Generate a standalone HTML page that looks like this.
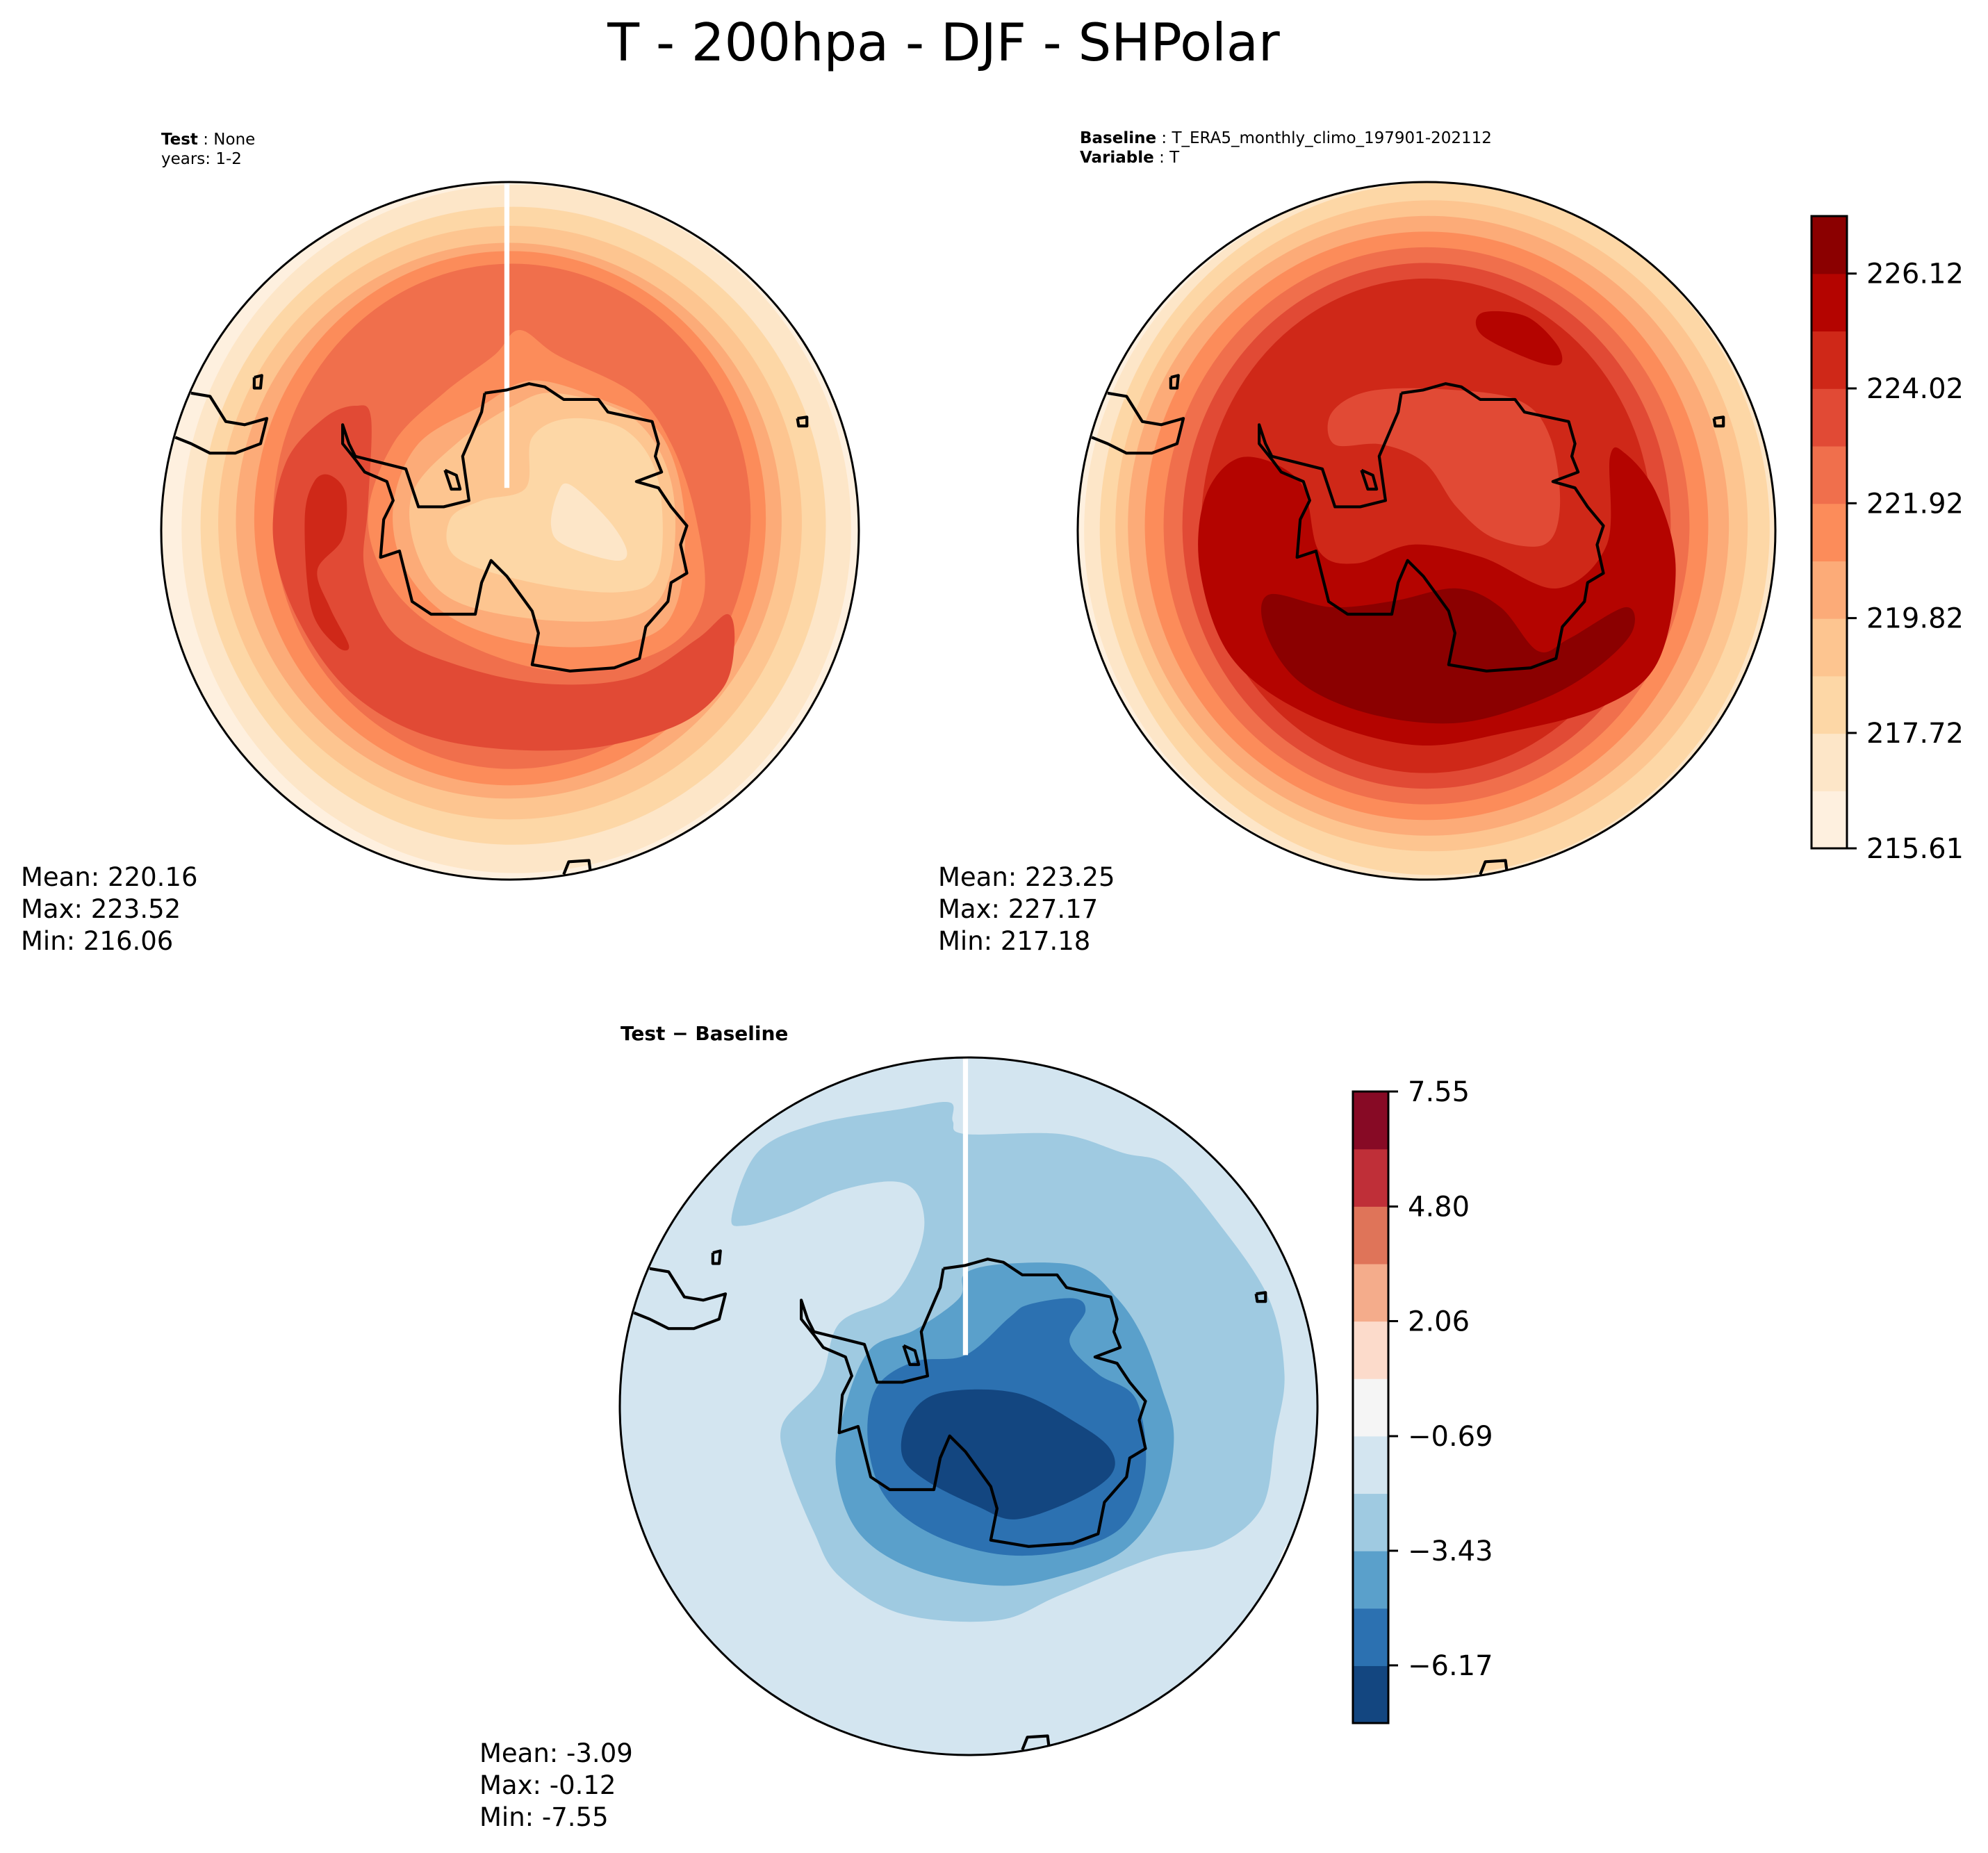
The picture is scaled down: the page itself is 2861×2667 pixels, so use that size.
<!DOCTYPE html>
<html><head><meta charset="utf-8"><style>
html,body{margin:0;padding:0;background:#fff;}
svg{display:block;}
text{font-family:"DejaVu Sans","Liberation Sans",sans-serif;fill:#000;}
</style></head><body>
<svg id="fig" xmlns="http://www.w3.org/2000/svg" width="2861" height="2667" viewBox="0 0 2861 2667">
<rect x="0" y="0" width="2861" height="2667" fill="#fff"/>
<text x="1358" y="87" font-size="75" text-anchor="middle">T - 200hpa - DJF - SHPolar</text>

<text x="232" y="208" font-size="23"><tspan font-weight="bold">Test</tspan> : None</text>
<text x="232" y="236" font-size="23">years: 1-2</text>
<text x="1554" y="206" font-size="23"><tspan font-weight="bold">Baseline</tspan> : T_ERA5_monthly_climo_197901-202112</text>
<text x="1554" y="234" font-size="23"><tspan font-weight="bold">Variable</tspan> : T</text>
<text x="893" y="1497" font-size="28" font-weight="bold">Test − Baseline</text>

<g font-size="37">
<text x="30" y="1275">Mean: 220.16</text><text x="30" y="1321">Max: 223.52</text><text x="30" y="1367">Min: 216.06</text></g>
<g font-size="37">
<text x="1350" y="1275">Mean: 223.25</text><text x="1350" y="1321">Max: 227.17</text><text x="1350" y="1367">Min: 217.18</text></g>
<g font-size="37">
<text x="690" y="2536">Mean: -3.09</text><text x="690" y="2582">Max: -0.12</text><text x="690" y="2628">Min: -7.55</text></g>

<g id="p1"></g>
<g id="p2"></g>
<g id="p3"></g>
<g id="cb1"></g>
<g id="cb2"></g>
</svg>
<script>
const NS="http://www.w3.org/2000/svg";
// colorbar data
const tempLevelStart=215.61;
const tempLevelStep=1.051;
const tempTicks=["215.61","217.72","219.82","221.92","224.02","226.12"];
const tempColors=['#fef0df','#fde6c8','#fdd7a6','#fdc590','#fcab78','#fc8c5a','#f06f4c','#e14a35','#cf2818','#b40400','#8b0000'];
const diffLevelStart=-7.55;
const diffLevelStep=1.3727;
const diffTicks=["-6.17","-3.43","-0.69","2.06","4.80","7.55"];
const diffColors=['#134680','#2c71b1','#5aa0cb','#9fcae1','#d3e5f0','#f5f5f5','#fcdbcb','#f4ac8b','#df7459','#bf2f38','#870a25'];

function mk(tag,attrs,parent){const e=document.createElementNS(NS,tag);for(const k in attrs)e.setAttribute(k,attrs[k]);if(parent)parent.appendChild(e);return e;}
function smooth(p){let d='M'+p[0][0]+','+p[0][1];const n=p.length;
 for(let i=0;i<n;i++){const p0=p[(i-1+n)%n],p1=p[i],p2=p[(i+1)%n],p3=p[(i+2)%n];
  const c1=[p1[0]+(p2[0]-p0[0])/6,p1[1]+(p2[1]-p0[1])/6],c2=[p2[0]-(p3[0]-p1[0])/6,p2[1]-(p3[1]-p1[1])/6];
  d+=' C'+c1[0].toFixed(1)+','+c1[1].toFixed(1)+' '+c2[0].toFixed(1)+','+c2[1].toFixed(1)+' '+p2[0]+','+p2[1];}
 return d+'Z';}

// contour shapes (frame coordinates)
const testField=[
 {l:1,e:[815,835,530,545]},{l:2,e:[810,830,495,505]},{l:3,e:[805,825,462,470]},{l:4,e:[803,822,432,440]},
 {l:5,e:[805,818,405,423]},{l:6,e:[808,815,378,400]},
 {l:7,p:[[560,640],[585,660],[580,800],[575,900],[620,1000],[720,1050],[860,1080],[1000,1070],[1100,1010],[1150,970],[1160,1020],[1140,1090],[1060,1150],[900,1185],[700,1170],[560,1100],[470,980],[430,850],[450,730],[510,660]]},
 {l:8,p:[[520,750],[545,780],[540,850],[500,900],[520,960],[550,1020],[530,1020],[490,960],[480,820],[495,760]]},
 {l:5,p:[[820,520],[880,560],[1000,620],[1060,700],[1100,820],[1110,950],[1040,1030],[880,1060],[720,1010],[620,930],[580,820],[620,700],[700,620],[780,560]]},
 {l:4,p:[[840,600],[950,630],[1040,680],[1080,800],[1070,950],[1010,1010],[860,1020],[720,980],[640,900],[620,800],[660,700],[760,640]]},
 {l:3,p:[[880,620],[1000,660],[1060,760],[1060,900],[1010,970],[870,980],[720,950],[660,880],[650,780],[720,700],[810,640]]},
 {l:2,p:[[900,660],[990,680],[1040,760],[1040,900],[980,935],[840,920],[720,880],[710,820],[760,790],[830,770],[840,690]]},
 {l:1,p:[[900,765],[960,820],[990,870],[970,885],[890,860],[870,830],[880,780]]}
];
const baseField=[
 {l:1,e:[680,838,555,560]},{l:2,e:[685,835,535,553]},{l:3,e:[680,830,505,520]},{l:4,e:[675,830,480,495]},
 {l:5,e:[672,830,450,470]},{l:6,e:[672,830,420,445]},{l:7,e:[672,830,390,420]},{l:8,e:[672,830,360,395]},
 {l:9,p:[[380,720],[470,760],[500,870],[560,890],[650,860],[760,880],[880,930],[960,860],[965,720],[990,715],[1040,780],[1070,900],[1040,1050],[950,1120],[800,1160],[650,1180],[480,1130],[360,1040],[310,900],[320,780]]},
 {l:9,p:[[760,490],[830,495],[880,540],[885,572],[840,565],[760,525]]},
 {l:10,p:[[420,940],[520,960],[620,950],[720,930],[790,960],[850,1030],[900,1010],[990,960],[1000,1000],[940,1060],[850,1110],[720,1145],[580,1130],[470,1080],[415,1000]]},
 {l:7,p:[[580,615],[700,612],[820,630],[870,690],[885,800],[860,860],[780,850],[720,800],[670,730],[600,700],[525,700],[520,650]]}
];
const diffField=[
 {l:5,p:[[1310,1070],[1250,1210],[1120,1320],[940,1390],[1080,1370],[1240,1270],[1340,1150]]},
 {l:3,p:[[430,550],[470,450],[560,405],[700,380],[775,370],[780,400],[800,420],[950,420],[1050,450],[1120,470],[1200,560],[1280,680],[1305,800],[1290,900],[1270,1010],[1200,1070],[1100,1090],[950,1150],[850,1190],[700,1180],[600,1120],[560,1050],[520,950],[510,880],[570,810],[600,720],[680,680],[720,620],[735,560],[720,510],[680,495],[600,510],[520,545],[450,565]]},
 {l:2,p:[[800,640],[870,625],[980,630],[1040,680],[1080,740],[1110,820],[1130,900],[1110,1000],[1050,1080],[950,1120],[850,1135],[720,1110],[630,1050],[595,950],[610,850],[650,760],[720,730],[790,680]]},
 {l:1,p:[[900,690],[970,680],[990,700],[965,750],[1010,800],[1070,840],[1085,950],[1050,1040],[960,1080],[850,1085],[740,1050],[670,990],[645,900],[660,820],[720,780],[800,770],[870,710]]},
 {l:0,p:[[760,830],[880,830],[980,880],[1030,920],[1030,960],[970,1000],[880,1030],[820,1010],[740,970],[700,930],[710,870]]}
];
const coastAnt=[[765,620],[800,615],[835,605],[860,610],[890,630],[945,630],[960,650],[1030,665],[1040,700],[1035,720],[1045,745],[1005,760],[1040,770],[1060,800],[1085,830],[1075,860],[1085,905],[1060,920],[1055,950],[1020,990],[1010,1040],[970,1055],[900,1060],[840,1050],[850,1000],[840,965],[800,910],[775,885],[760,920],[750,970],[715,970],[680,970],[650,950],[640,910],[630,870],[600,880],[605,820],[620,790],[610,760],[575,745],[560,725],[540,700],[540,670],[550,700],[560,720],[600,730],[640,740],[660,800],[700,800],[740,790],[730,720],[760,650],[765,620]];
const coastSA=[[300,620],[330,625],[355,665],[385,670],[420,660],[410,700],[370,715],[330,715],[300,700],[275,690]];
const coastIsl1=[[1260,660],[1275,658],[1275,672],[1262,672],[1260,660]];
const coastIsl2=[[890,1382],[898,1362],[930,1360],[932,1376]];
const coastIsl3=[[400,595],[412,592],[410,612],[400,612],[400,595]];
const coastIsl4=[[702,742],[720,750],[726,772],[712,772],[702,742]];

let clipN=0;
function panel(gid,cx,cy,s,ox,oy,r,field,colors,gap){
 const g=document.getElementById(gid);
 const id='clip'+(clipN++);
 const defs=mk('defs',{},g);const cp=mk('clipPath',{id:id},defs);
 mk('circle',{cx:ox,cy:oy,r:r},cp);
 const inner=mk('g',{transform:`translate(${cx},${cy}) scale(${s}) translate(${-ox},${-oy})`},g);
 const fg=mk('g',{'clip-path':`url(#${id})`},inner);
 const bg=mk('circle',{cx:ox,cy:oy,r:r,fill:colors[field.base]},fg);
 
 
 field.shapes.forEach(sh=>{
  let el;
  if(sh.e){el=mk('ellipse',{cx:sh.e[0],cy:sh.e[1],rx:sh.e[2],ry:sh.e[3],fill:colors[sh.l]},fg);}
  else{el=mk('path',{d:smooth(sh.p),fill:colors[sh.l]},fg);}
  
  
 });
 if(gap){const w=mk('rect',{x:gap[0]-4,y:oy-r-5,width:8,height:gap[1]-(oy-r-5),fill:'#fff'},fg);
  
  }
 const cg=mk('g',{transform:`translate(${cx},${cy}) scale(0.909) translate(-805,-838)`,fill:'none',stroke:'#000','stroke-width':4.6,'stroke-linejoin':'round'},g);
 
 
 const cc=mk('g',{'clip-path':`url(#c${id})`},cg);
 const d2=mk('defs',{},cg);const cp2=mk('clipPath',{id:'c'+id},d2);mk('circle',{cx:805,cy:838,r:552},cp2);
 [coastAnt,coastSA,coastIsl1,coastIsl2,coastIsl3,coastIsl4].forEach(c=>{
  mk('polyline',{points:c.map(p=>p.join(',')).join(' ')},cc);});
 const bd=mk('circle',{cx:cx,cy:cy,r:502,fill:'none',stroke:'#000','stroke-width':3},g);
 
 
}
panel('p1',734,764,0.909,805,838,552,{base:0,shapes:testField},tempColors,[800,770]);
panel('p2',2053,764,0.901,672,838,557,{base:0,shapes:baseField},tempColors,null);
panel('p3',1394,2024,0.909,805,851,552,{base:4,shapes:diffField},diffColors,[800,770]);

function colorbar(gid,x,y0,y1,colors,levStart,step,ticks){
 const g=document.getElementById(gid);
 const n=colors.length,w=51;
 const vmax=levStart+n*step;
 const yOf=v=>y1-(v-levStart)/(vmax-levStart)*(y1-y0);
 colors.forEach((c,i)=>{
  const r=mk('rect',{x:x,y:yOf(levStart+(i+1)*step),width:w,height:(y1-y0)/n+0.6,fill:c},g);
  
  
 });
 mk('rect',{x:x,y:y0,width:w,height:y1-y0,fill:'none',stroke:'#000','stroke-width':3},g);
 ticks.forEach(t=>{
  const yy=yOf(parseFloat(t));
  mk('line',{x1:x+w,x2:x+w+14,y1:yy,y2:yy,stroke:'#000','stroke-width':3},g);
  const tx=mk('text',{x:x+w+28,y:yy+14,'font-size':40},g);
  tx.textContent=t.startsWith('-')?'\u2212'+t.slice(1):t;
  
  
 });
}
colorbar('cb1',2607,311,1221,tempColors,tempLevelStart,tempLevelStep,tempTicks);
colorbar('cb2',1947,1571,2480,diffColors,diffLevelStart,diffLevelStep,diffTicks);
</script>
</body></html>
